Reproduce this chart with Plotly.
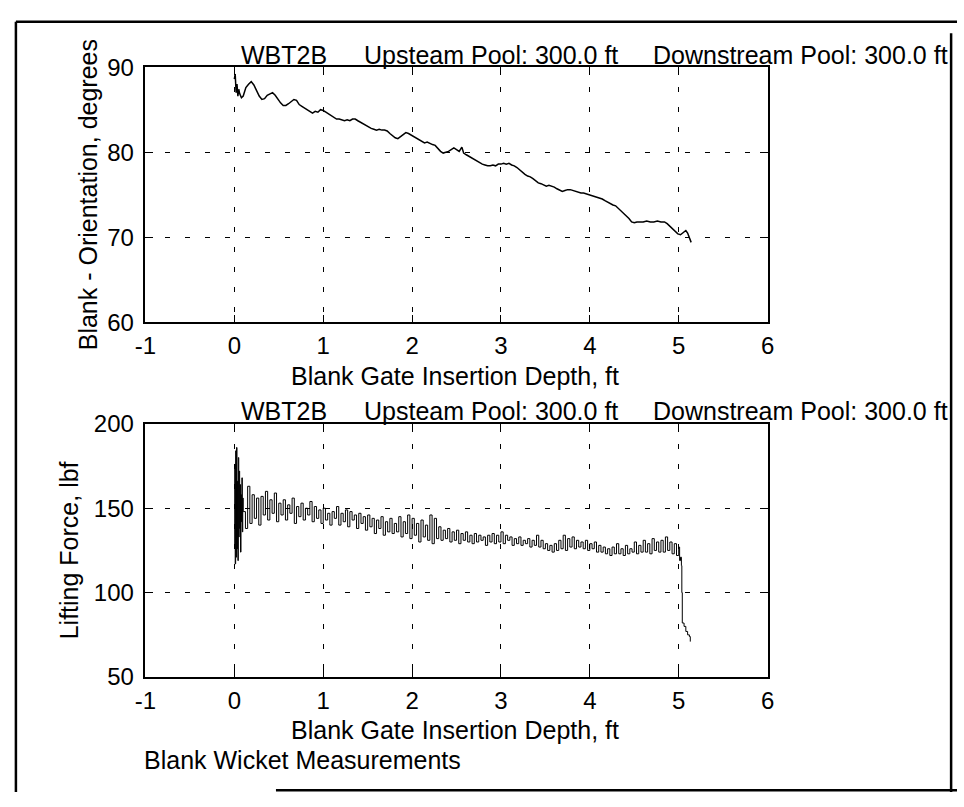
import plotly.graph_objects as go

# ---------------- data ----------------
x_ticks = [-1, 0, 1, 2, 3, 4, 5, 6]
x_tick_text = ["-1", "0", "1", "2", "3", "4", "5", "6"]
y1_ticks = [60, 70, 80, 90]
y2_ticks = [50, 100, 150, 200]

depth_orient = [
    0.00, 0.01, 0.02, 0.03, 0.04, 0.05, 0.06, 0.08, 0.10, 0.13, 0.16, 0.19, 0.22, 0.25, 0.28, 0.31,
    0.34, 0.37, 0.40, 0.43, 0.46, 0.49, 0.52, 0.55, 0.58, 0.61, 0.64, 0.67, 0.70, 0.73, 0.76, 0.79,
    0.82, 0.85, 0.88, 0.91, 0.94, 0.97, 1.00, 1.03, 1.06, 1.09, 1.12, 1.15, 1.18, 1.21, 1.24, 1.27,
    1.30, 1.33, 1.36, 1.39, 1.42, 1.45, 1.48, 1.51, 1.54, 1.57, 1.60, 1.63, 1.66, 1.69, 1.72, 1.75,
    1.78, 1.81, 1.84, 1.87, 1.90, 1.93, 1.96, 1.99, 2.02, 2.05, 2.08, 2.11, 2.14, 2.17, 2.20, 2.23,
    2.26, 2.29, 2.32, 2.35, 2.38, 2.41, 2.44, 2.47, 2.50, 2.53, 2.56, 2.58, 2.61, 2.64, 2.67, 2.70,
    2.73, 2.76, 2.79, 2.82, 2.85, 2.88, 2.91, 2.94, 2.97, 3.00, 3.03, 3.06, 3.09, 3.12, 3.15, 3.18,
    3.21, 3.24, 3.27, 3.30, 3.33, 3.36, 3.39, 3.42, 3.45, 3.48, 3.51, 3.54, 3.57, 3.60, 3.63, 3.66,
    3.69, 3.72, 3.75, 3.78, 3.81, 3.84, 3.87, 3.90, 3.93, 3.96, 3.99, 4.02, 4.05, 4.08, 4.11, 4.14,
    4.17, 4.20, 4.23, 4.26, 4.29, 4.32, 4.35, 4.38, 4.41, 4.44, 4.47, 4.50, 4.53, 4.56, 4.60, 4.64,
    4.68, 4.72, 4.76, 4.80, 4.84, 4.87, 4.90, 4.93, 4.96, 4.99, 5.02, 5.05, 5.08, 5.10, 5.12, 5.14,
]
orientation_deg = [
    88.6, 89.2, 87.0, 88.0, 86.6, 87.4, 86.9, 86.4, 86.6, 87.6, 88.0, 88.3, 87.9, 87.2, 86.6, 86.2,
    86.3, 86.7, 86.9, 87.0, 86.7, 86.2, 85.8, 85.5, 85.5, 85.7, 85.9, 86.2, 86.1, 85.6, 85.4, 85.2,
    85.0, 84.8, 84.6, 84.8, 84.7, 85.0, 84.9, 84.7, 84.5, 84.3, 84.1, 83.9, 83.9, 83.8, 83.7, 83.8,
    83.7, 83.9, 83.9, 83.7, 83.5, 83.3, 83.1, 82.9, 82.8, 82.7, 82.6, 82.7, 82.6, 82.6, 82.5, 82.2,
    81.9, 81.7, 81.6, 81.8, 82.1, 82.3, 82.2, 82.0, 81.8, 81.7, 81.5, 81.3, 81.1, 81.2, 81.0, 80.9,
    80.8, 80.4, 80.1, 79.9, 80.0, 80.1, 80.3, 80.5, 80.3, 80.1, 80.6, 79.9, 79.7, 79.5, 79.3, 79.1,
    78.9, 78.8, 78.6, 78.5, 78.4, 78.4, 78.5, 78.4, 78.6, 78.6, 78.7, 78.6, 78.7, 78.5, 78.4, 78.2,
    77.9, 77.6, 77.4, 77.2, 77.1, 76.9, 76.6, 76.4, 76.3, 76.1, 76.0, 76.1, 76.0, 75.9, 75.7, 75.5,
    75.4, 75.5, 75.6, 75.6, 75.5, 75.4, 75.3, 75.2, 75.2, 75.1, 75.0, 74.9, 74.8, 74.7, 74.6, 74.5,
    74.3, 74.1, 74.0, 73.8, 73.7, 73.4, 73.1, 72.9, 72.6, 72.2, 71.8, 71.7, 71.8, 71.8, 71.8, 71.9,
    71.8, 71.8, 71.9, 71.8, 71.8, 71.6, 71.3, 71.0, 70.7, 70.4, 70.3, 70.6, 70.8, 70.5, 70.0, 69.4,
]

depth_force = [
    0.000, 0.005, 0.010, 0.015, 0.020, 0.025, 0.030, 0.035, 0.040, 0.045,
    0.050, 0.055, 0.060, 0.065, 0.070, 0.075, 0.080, 0.085, 0.090, 0.095,
    0.100, 0.125, 0.150, 0.175, 0.200, 0.225, 0.250, 0.275, 0.300, 0.325,
    0.350, 0.375, 0.400, 0.425, 0.450, 0.475, 0.500, 0.525, 0.550, 0.575,
    0.600, 0.625, 0.650, 0.675, 0.700, 0.725, 0.750, 0.775, 0.800, 0.825,
    0.850, 0.875, 0.900, 0.925, 0.950, 0.975, 1.000, 1.025, 1.050, 1.075,
    1.100, 1.125, 1.150, 1.175, 1.200, 1.225, 1.250, 1.275, 1.300, 1.325,
    1.350, 1.375, 1.400, 1.425, 1.450, 1.475, 1.500, 1.525, 1.550, 1.575,
    1.600, 1.625, 1.650, 1.675, 1.700, 1.725, 1.750, 1.775, 1.800, 1.825,
    1.850, 1.875, 1.900, 1.925, 1.950, 1.975, 2.000, 2.025, 2.050, 2.075,
    2.100, 2.125, 2.150, 2.175, 2.200, 2.225, 2.250, 2.275, 2.300, 2.325,
    2.350, 2.375, 2.400, 2.425, 2.450, 2.475, 2.500, 2.525, 2.550, 2.575,
    2.600, 2.625, 2.650, 2.675, 2.700, 2.725, 2.750, 2.775, 2.800, 2.825,
    2.850, 2.875, 2.900, 2.925, 2.950, 2.975, 3.000, 3.025, 3.050, 3.075,
    3.100, 3.125, 3.150, 3.175, 3.200, 3.225, 3.250, 3.275, 3.300, 3.325,
    3.350, 3.375, 3.400, 3.425, 3.450, 3.475, 3.500, 3.525, 3.550, 3.575,
    3.600, 3.625, 3.650, 3.675, 3.700, 3.725, 3.750, 3.775, 3.800, 3.825,
    3.850, 3.875, 3.900, 3.925, 3.950, 3.975, 4.000, 4.025, 4.050, 4.075,
    4.100, 4.125, 4.150, 4.175, 4.200, 4.225, 4.250, 4.275, 4.300, 4.325,
    4.350, 4.375, 4.400, 4.425, 4.450, 4.475, 4.500, 4.525, 4.550, 4.575,
    4.600, 4.625, 4.650, 4.675, 4.700, 4.725, 4.750, 4.775, 4.800, 4.825,
    4.850, 4.875, 4.900, 4.925, 4.950, 4.975, 5.000, 5.010, 5.020, 5.030,
    5.035, 5.040, 5.060, 5.080, 5.100, 5.120, 5.130,
]
lifting_force_lbf = [
    128, 176, 117, 184, 121, 186, 126, 166, 119, 180,
    133, 172, 138, 164, 124, 158, 142, 168, 136, 156,
    148, 138, 163, 141, 158, 144, 156, 140, 157, 146,
    160, 143, 155, 147, 159, 142, 153, 146, 155, 143,
    152, 147, 156, 141, 151, 145, 153, 143, 150, 146,
    154, 142, 151, 144, 149, 141, 150, 143, 147, 140,
    148, 144, 151, 140, 147, 142, 149, 139, 148, 143,
    146, 138, 147, 141, 145, 137, 146, 139, 144, 135,
    143, 138, 145, 134, 142, 136, 144, 135, 141, 136,
    145, 133, 142, 135, 146, 132, 144, 134, 141, 130,
    143, 133, 140, 131, 146, 129, 144, 132, 139, 131,
    137, 132, 138, 130, 136, 131, 137, 129, 135, 131,
    136, 130, 134, 129, 135, 130, 134, 131, 133, 128,
    134, 130, 135, 129, 134, 130, 136, 129, 134, 131,
    133, 128, 132, 129, 133, 128, 131, 129, 132, 127,
    131, 128, 134, 127, 131, 126, 129, 125, 128, 124,
    129, 125, 131, 126, 134, 125, 132, 127, 133, 126,
    131, 127, 130, 126, 131, 125, 129, 126, 130, 124,
    128, 124, 127, 123, 126, 122, 127, 123, 129, 123,
    126, 122, 128, 123, 126, 124, 130, 123, 128, 124,
    131, 124, 129, 123, 132, 125, 130, 124, 131, 124,
    133, 125, 130, 123, 129, 122, 127, 119, 121, 116,
    100, 82, 80, 77, 75, 74, 71,
]

title_parts = ["WBT2B", "Upsteam Pool: 300.0 ft", "Downstream Pool: 300.0 ft"]
x_title = "Blank Gate Insertion Depth, ft"
y1_title = "Blank - Orientation, degrees"
y2_title = "Lifting Force, lbf"
footer = "Blank Wicket Measurements"

# ---------------- figure ----------------
W, H = 964, 807
FONT = "Liberation Sans, Arial, Helvetica, sans-serif"

def px(x):
    return x / W

def py(y):
    return 1 - y / H

fig = go.Figure()
fig.add_trace(go.Scatter(x=depth_orient, y=orientation_deg, mode="lines",
                         line=dict(color="black", width=1.5), xaxis="x", yaxis="y",
                         showlegend=False, hoverinfo="skip"))
fig.add_trace(go.Scatter(x=depth_force, y=lifting_force_lbf, mode="lines",
                         line=dict(color="black", width=1, shape="hv"), xaxis="x2", yaxis="y2",
                         showlegend=False, hoverinfo="skip"))

axis_common = dict(
    showline=True, linecolor="black", linewidth=1.5, mirror="allticks",
    ticks="inside", ticklen=8, tickwidth=1, tickcolor="black",
    showgrid=True, gridcolor="black", gridwidth=1, griddash="5px,15px",
    zeroline=False, tickfont=dict(family=FONT, size=24, color="black"),
    fixedrange=True,
)

x_dom = [px(137), px(771)]
fig.update_layout(
    width=W, height=H, autosize=False,
    margin=dict(l=0, r=0, t=0, b=0),
    paper_bgcolor="white", plot_bgcolor="white",
    xaxis=dict(domain=x_dom, range=[-1, 6], tickvals=x_ticks, ticktext=x_tick_text, anchor="y",
               ticklabelstandoff=1, **axis_common),
    yaxis=dict(domain=[py(319), py(55)], range=[60, 90], tickvals=y1_ticks, anchor="x",
               ticklabelstandoff=5, **axis_common),
    xaxis2=dict(domain=x_dom, range=[-1, 6], tickvals=x_ticks, ticktext=x_tick_text, anchor="y2",
                ticklabelstandoff=1, **axis_common),
    yaxis2=dict(domain=[py(686), py(424)], range=[50, 200], tickvals=y2_ticks, anchor="x2",
                ticklabelstandoff=5, **axis_common),
)

ann_font = dict(family=FONT, size=25, color="black")
annotations = []
title_x = [232, 358, 652]
for yc in (42, 411):
    for t, xl in zip(title_parts, title_x):
        annotations.append(dict(text=t, x=px(xl), y=py(yc), xref="paper", yref="paper",
                                xanchor="left", yanchor="middle", showarrow=False, font=ann_font))
for yc in (375, 741):
    annotations.append(dict(text=x_title, x=px(452), y=py(yc), xref="paper", yref="paper",
                            xanchor="center", yanchor="middle", showarrow=False, font=ann_font))
annotations.append(dict(text=footer, x=px(134), y=py(772), xref="paper", yref="paper",
                        xanchor="left", yanchor="middle", showarrow=False, font=ann_font))
annotations.append(dict(text=y1_title, x=px(78), y=py(187), xref="paper", yref="paper",
                        xanchor="center", yanchor="middle", textangle=-90, showarrow=False,
                        font=ann_font))
annotations.append(dict(text=y2_title, x=px(60), y=py(555), xref="paper", yref="paper",
                        xanchor="center", yanchor="middle", textangle=-90, showarrow=False,
                        font=ann_font))
fig.update_layout(annotations=annotations)

# outer frame
frame = dict(color="black", width=2.5)
shapes = [
    dict(type="line", xref="paper", yref="paper", x0=px(5), x1=px(964), y0=py(8), y1=py(8), line=frame),
    dict(type="line", xref="paper", yref="paper", x0=px(5), x1=px(5), y0=py(8), y1=py(805), line=frame),
    dict(type="line", xref="paper", yref="paper", x0=px(958), x1=px(958), y0=py(20), y1=py(805), line=frame),
    dict(type="line", xref="paper", yref="paper", x0=px(270), x1=px(964), y0=py(803), y1=py(803), line=frame),
]
fig.update_layout(shapes=shapes)

fig.write_html(
    "out.html", include_plotlyjs=True, config=dict(displayModeBar=False),
    post_script="document.body.style.margin='0px';document.body.style.overflow='hidden';",
)
